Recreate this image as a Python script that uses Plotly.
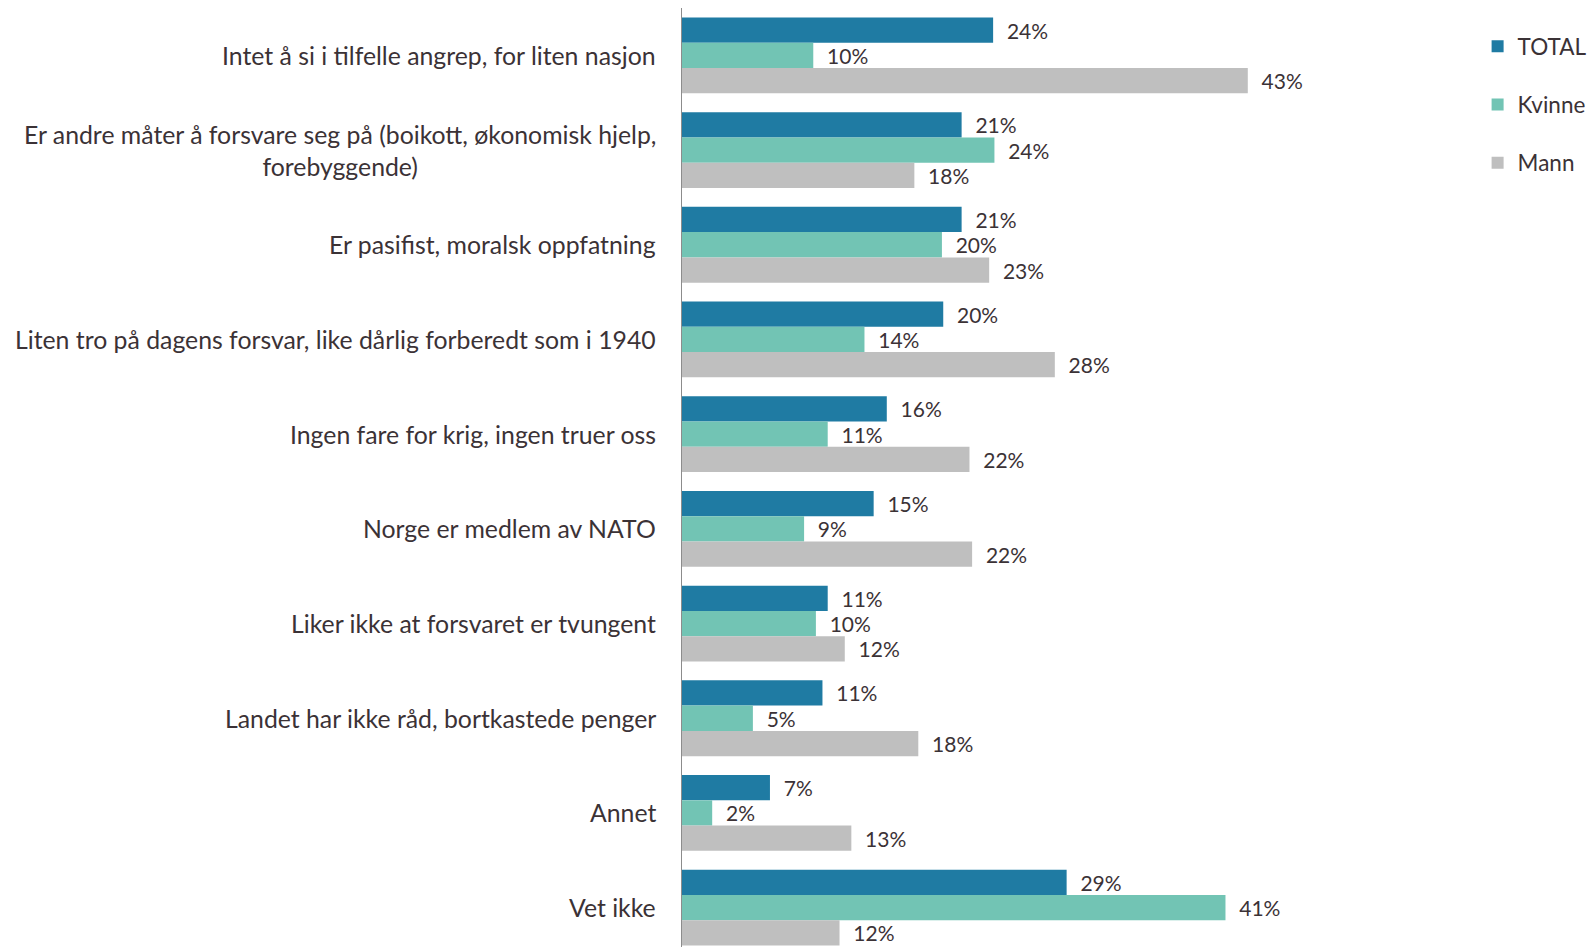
import plotly.graph_objects as go

categories = [
    "Intet å si i tilfelle angrep, for liten nasjon",
    "Er andre måter å forsvare seg på (boikott, økonomisk hjelp,<br>forebyggende)",
    "Er pasifist, moralsk oppfatning",
    "Liten tro på dagens forsvar, like dårlig forberedt som i 1940",
    "Ingen fare for krig, ingen truer oss",
    "Norge er medlem av NATO",
    "Liker ikke at forsvaret er tvungent",
    "Landet har ikke råd, bortkastede penger",
    "Annet",
    "Vet ikke",
]
total = [23.7, 21.3, 21.3, 19.9, 15.6, 14.6, 11.1, 10.7, 6.7, 29.3]
kvinne = [10.0, 23.8, 19.8, 13.9, 11.1, 9.3, 10.2, 5.4, 2.3, 41.4]
mann = [43.1, 17.7, 23.4, 28.4, 21.9, 22.1, 12.4, 18.0, 12.9, 12.0]

series = [("TOTAL", total, "#1f7ba3"), ("Kvinne", kvinne, "#72c4b4"), ("Mann", mann, "#bfbfbf")]

FONT = "Lato"
TXT = "#3b3236"

fig = go.Figure()
for name, vals, col in series:
    fig.add_trace(go.Bar(
        y=categories, x=vals, name=name, orientation="h", legendgroup=name,
        marker=dict(color=col, line=dict(width=0)),
        texttemplate="\u00a0\u00a0%{x:.0f}%",
        textposition="outside", cliponaxis=False,
        textfont=dict(family=FONT, size=21, color=TXT),
        hoverinfo="skip",
    ))

for c in categories:
    fig.add_annotation(
        x=0, xref="paper", xanchor="right", xshift=-24,
        y=c, yref="y", yanchor="middle",
        text=c, showarrow=False, align="center",
        font=dict(family=FONT, size=24.8, color=TXT),
    )

PLOT_W = 910
PLOT_H = 939
PITCH = 94.7
fig.update_layout(
    width=1592, height=947,
    margin=dict(l=682, r=0, t=8, b=0),
    paper_bgcolor="white", plot_bgcolor="white",
    barmode="group", bargap=0.2, bargroupgap=0,
    showlegend=True,
    legend=dict(
        x=(1482 - 682) / PLOT_W, xanchor="left", y=1 - (17 / PLOT_H), yanchor="top",
        font=dict(family=FONT, size=22.5, color=TXT),
        tracegroupgap=26, traceorder="grouped", itemwidth=30,
        bgcolor="rgba(0,0,0,0)",
    ),
)
fig.update_xaxes(range=[0, PLOT_W / 13.2], visible=False, showgrid=False, zeroline=False)
fig.update_yaxes(range=[-0.5 + PLOT_H / PITCH, -0.5], autorange=False,
                 showticklabels=False, showgrid=False, zeroline=False,
                 showline=True, linecolor="#8c8c8c", linewidth=1, ticks="")

fig.write_html(
    "out.html",
    config={"displayModeBar": False},
    post_script="document.body.style.margin='0';document.body.style.overflow='hidden';",
)
